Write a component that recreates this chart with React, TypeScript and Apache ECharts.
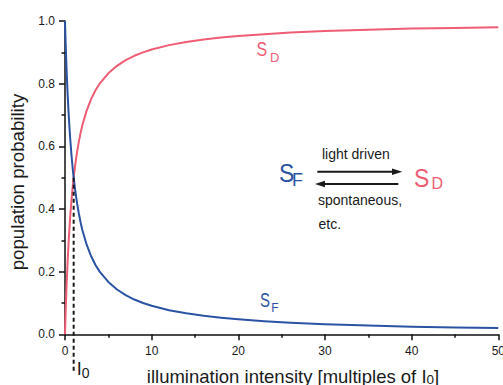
import React, { useEffect, useRef } from "react";
import * as echarts from "echarts";

// Illumination intensity in multiples of I0
const intensity = [0, 0.05, 0.1, 0.15, 0.2, 0.3, 0.4, 0.5, 0.6, 0.75, 0.9, 1, 1.2, 1.4, 1.6, 1.8, 2, 2.5, 3, 3.5, 4, 5, 6, 7, 8, 9, 10, 12, 14, 16, 18, 20, 23, 26, 30, 35, 40, 45, 50];
// Population probability of the fluorescent state S_F
const fluorescentState = [1.0, 0.952, 0.909, 0.87, 0.833, 0.769, 0.714, 0.667, 0.625, 0.571, 0.526, 0.5, 0.455, 0.417, 0.385, 0.357, 0.333, 0.286, 0.25, 0.222, 0.2, 0.167, 0.143, 0.125, 0.111, 0.1, 0.091, 0.077, 0.067, 0.059, 0.053, 0.048, 0.042, 0.037, 0.032, 0.028, 0.024, 0.022, 0.02];
// Population probability of the dark state S_D
const darkState = [0.0, 0.048, 0.091, 0.13, 0.167, 0.231, 0.286, 0.333, 0.375, 0.429, 0.474, 0.5, 0.545, 0.583, 0.615, 0.643, 0.667, 0.714, 0.75, 0.778, 0.8, 0.833, 0.857, 0.875, 0.889, 0.9, 0.909, 0.923, 0.933, 0.941, 0.947, 0.952, 0.958, 0.963, 0.968, 0.972, 0.976, 0.978, 0.98];
// Dashed marker at I = I0, from the crossing point down below the axis
const i0Marker = [
  [1, 0.5],
  [1, -0.12],
];
const xTicks = [0, 10, 20, 30, 40, 50];
const yTicks = [0, 0.2, 0.4, 0.6, 0.8, 1.0];

const FONT = '"Liberation Sans", Arial, Helvetica, sans-serif';
const BLUE = "#2b53a4";
const RED = "#ef5d75";
const INK = "#1a1a1a";

function subscriptLabel(
  main: string,
  sub: string,
  color: string,
  x: number,
  y: number,
  mainSize: number,
  mainScaleY: number,
  subX: number,
  subY: number,
  subSize: number
) {
  return {
    type: "group",
    children: [
      {
        type: "text",
        x,
        y,
        scaleY: mainScaleY,
        style: { text: main, fill: color, fontSize: mainSize, fontFamily: FONT, align: "left", verticalAlign: "middle" },
      },
      {
        type: "text",
        x: subX,
        y: subY,
        style: { text: sub, fill: color, fontSize: subSize, fontFamily: FONT, align: "left", verticalAlign: "middle" },
      },
    ],
  };
}

function plainText(text: string, x: number, y: number, size: number) {
  return {
    type: "text",
    x,
    y,
    style: { text, fill: INK, fontSize: size, fontFamily: FONT, align: "left", verticalAlign: "middle" },
  };
}

export default function App() {
  const ref = useRef<HTMLDivElement>(null);

  useEffect(() => {
    if (!ref.current) return;
    const chart = echarts.init(ref.current, undefined, { renderer: "svg" });

    const axisLineStyle = { color: "#111", width: 1.5 };
    const labelStyle = { fontSize: 12, color: INK, fontFamily: FONT };

    chart.setOption({
      animation: false,
      grid: { left: 65, right: 4.7, top: 21, bottom: 50.7, containLabel: false, outerBoundsMode: "none" },
      xAxis: {
        type: "value",
        min: xTicks[0],
        max: xTicks[xTicks.length - 1],
        interval: xTicks[1] - xTicks[0],
        offset: 3,
        axisLine: { show: true, lineStyle: axisLineStyle },
        axisTick: { show: true, length: 6, lineStyle: axisLineStyle },
        minorTick: { show: true, splitNumber: 2, length: 3.5, lineStyle: axisLineStyle },
        splitLine: { show: false },
        minorSplitLine: { show: false },
        axisLabel: { ...labelStyle, margin: 8, hideOverlap: false },
      },
      yAxis: {
        type: "value",
        min: yTicks[0],
        max: yTicks[yTicks.length - 1],
        interval: 0.2,
        axisLine: { show: true, lineStyle: axisLineStyle },
        axisTick: { show: true, length: 6, lineStyle: axisLineStyle },
        minorTick: { show: true, splitNumber: 2, length: 3.5, lineStyle: axisLineStyle },
        splitLine: { show: false },
        minorSplitLine: { show: false },
        axisLabel: { ...labelStyle, margin: 10, formatter: (v: number) => v.toFixed(1) },
      },
      series: [
        {
          name: "S_D",
          type: "line",
          data: intensity.map((x, i) => [x, darkState[i]]),
          showSymbol: false,
          smooth: false,
          lineStyle: { color: RED, width: 2, join: "round" },
          z: 2,
        },
        {
          name: "S_F",
          type: "line",
          data: intensity.map((x, i) => [x, fluorescentState[i]]),
          showSymbol: false,
          smooth: false,
          lineStyle: { color: BLUE, width: 2, join: "round" },
          z: 3,
        },
        {
          name: "I0",
          type: "line",
          data: i0Marker,
          showSymbol: false,
          clip: false,
          lineStyle: { color: INK, width: 2, type: [4, 3] },
          z: 4,
          endLabel: {
            show: true,
            distance: 3,
            offset: [0, -1.5],
            formatter: "{m|I}{s|0}",
            rich: {
              m: { fontSize: 18, lineHeight: 20, verticalAlign: "top", color: INK, fontFamily: FONT },
              s: { fontSize: 14, lineHeight: 14, padding: [10, 0, 0, 0], verticalAlign: "bottom", color: INK, fontFamily: FONT },
            },
          },
        },
      ],
      graphic: [
        // axis titles
        {
          type: "text",
          x: 17,
          y: 182,
          rotation: Math.PI / 2,
          style: {
            text: "population probability",
            fill: INK,
            fontSize: 18.7,
            fontFamily: FONT,
            align: "center",
            verticalAlign: "middle",
          },
        },
        {
          type: "text",
          x: 293,
          y: 366.5,
          style: {
            text: "{m|illumination intensity [multiples of I}{s|0}{m|]}",
            align: "center",
            verticalAlign: "top",
            rich: {
              m: { fontSize: 18.5, lineHeight: 20, verticalAlign: "top", fill: INK, fontFamily: FONT },
              s: { fontSize: 13.5, lineHeight: 14, padding: [9, 0, 0, 0], verticalAlign: "bottom", fill: INK, fontFamily: FONT },
            },
          },
        },
        // curve labels
        subscriptLabel("S", "D", RED, 256.5, 49.8, 16, 1.25, 270, 57.2, 13),
        subscriptLabel("S", "F", BLUE, 260, 300.5, 15, 1.3, 271.3, 308.1, 12),
        // reaction scheme
        subscriptLabel("S", "F", BLUE, 279, 172.5, 23, 1.15, 292, 179.5, 18),
        subscriptLabel("S", "D", RED, 414, 177.5, 23, 1.15, 431.4, 183.8, 16),
        {
          type: "line",
          shape: { x1: 317.3, y1: 171.7, x2: 394, y2: 171.7 },
          style: { stroke: INK, lineWidth: 2 },
        },
        {
          type: "polygon",
          shape: { points: [[402.3, 171.7], [392, 168.5], [392, 174.9]] },
          style: { fill: INK },
        },
        {
          type: "line",
          shape: { x1: 323, y1: 184, x2: 398.3, y2: 184 },
          style: { stroke: INK, lineWidth: 2 },
        },
        {
          type: "polygon",
          shape: { points: [[315, 184], [325, 180.8], [325, 187.2]] },
          style: { fill: INK },
        },
        plainText("light driven", 322, 153.6, 14),
        plainText("spontaneous,", 318, 200.2, 14),
        plainText("etc.", 318.5, 224.2, 14),
      ],
    });

    return () => chart.dispose();
  }, []);

  return (
    <div
      ref={ref}
      style={{ position: "fixed", left: 0, top: 0, width: 503, height: 385, background: "#fff" }}
    />
  );
}
